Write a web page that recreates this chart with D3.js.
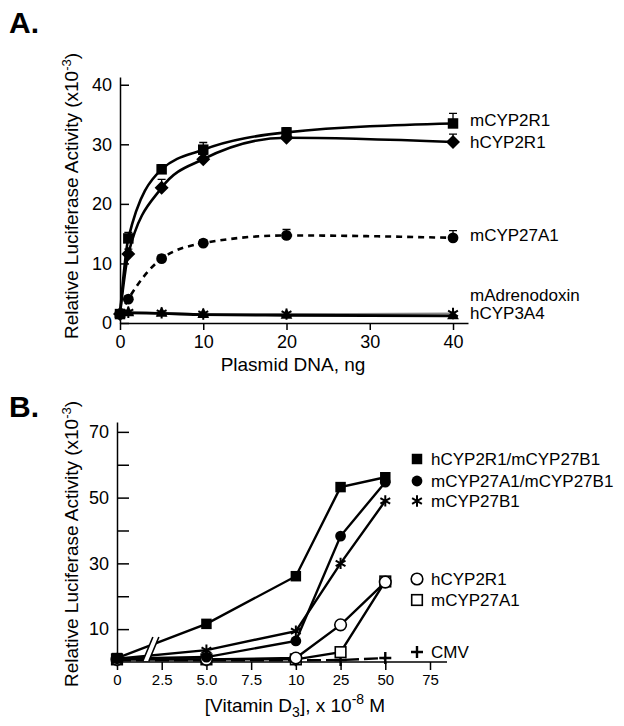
<!DOCTYPE html>
<html>
<head>
<meta charset="utf-8">
<script src="https://cdn.jsdelivr.net/npm/d3@7"></script>
<style>
  body { margin: 0; background: #fff; }
  text { font-family: "Liberation Sans", Arial, Helvetica, sans-serif; fill: #000; }
</style>
</head>
<body>
<svg id="chart" width="624" height="726"></svg>
<script>
// ---- Panel A: plasmid DNA titration ----
const dnaNg = [0, 1, 5, 10, 20, 40];
const mCYP2R1 = [1.5, 14.2, 25.8, 29.1, 32.0, 33.5];
const mCYP2R1Err = [0, 1.0, 0.8, 1.2, 0.8, 1.7];
const hCYP2R1 = [1.5, 11.6, 22.7, 27.5, 31.1, 30.4];
const hCYP2R1Err = [0, 0.8, 1.4, 0.8, 0.8, 1.3];
const mCYP27A1 = [1.5, 4.0, 10.8, 13.4, 14.7, 14.3];
const mCYP27A1Err = [0, 0.5, 0.6, 0.6, 1.0, 1.2];
const mAdrenodoxin = [1.5, 1.8, 1.7, 1.5, 1.5, 1.6];
const hCYP3A4 = [1.5, 1.7, 1.6, 1.4, 1.3, 1.2];
const aTicks = [0, 10, 20, 30, 40];

// ---- Panel B: vitamin D3 dose response ----
const doseTicks = ["0", "2.5", "5.0", "7.5", "10", "25", "50", "75"];
const doses = ["0", "5.0", "10", "25", "50"];
const hCYP2R1_mCYP27B1 = [1.2, 11.6, 26.1, 53.2, 56.2];
const mCYP27A1_mCYP27B1 = [1.0, 1.5, 6.4, 38.3, 54.7];
const mCYP27B1 = [1.0, 3.6, 9.4, 30.0, 49.0];
const hCYP2R1B = [0.8, 0.8, 1.2, 11.3, 24.3];
const mCYP27A1B = [0.8, 0.8, 0.8, 3.0, 24.5];
const cmv = [0.5, 0.5, 0.5, 0.6, 1.2];
const bTicks = [10, 20, 30, 40, 50, 60, 70];

const svg = d3.select('#chart');

const sym = (type, size) => d3.symbol().type(type).size(size)();

function drawMarker(g, x, y, kind) {
    if (kind === 'square') {
        g.append('path').attr('d', sym(d3.symbolSquare, 110))
            .attr('transform', `translate(${x},${y})`).attr('fill', '#000');
    } else if (kind === 'diamond') {
        g.append('path').attr('d', sym(d3.symbolSquare, 98))
            .attr('transform', `translate(${x},${y}) rotate(45)`).attr('fill', '#000');
    } else if (kind === 'circle') {
        g.append('circle').attr('cx', x).attr('cy', y).attr('r', 5.4).attr('fill', '#000');
    } else if (kind === 'triangle') {
        g.append('path').attr('d', sym(d3.symbolTriangle, 60))
            .attr('transform', `translate(${x},${y})`).attr('fill', '#000');
    } else if (kind === 'star') {
        g.append('path').attr('d', sym(d3.symbolAsterisk, 90))
            .attr('transform', `translate(${x},${y})`)
            .attr('fill', 'none').attr('stroke', '#000').attr('stroke-width', 2);
    } else if (kind === 'opencircle') {
        g.append('circle').attr('cx', x).attr('cy', y).attr('r', 5.8)
            .attr('fill', '#fff').attr('stroke', '#000').attr('stroke-width', 1.6);
    } else if (kind === 'opensquare') {
        g.append('rect').attr('x', x - 5.3).attr('y', y - 5.3).attr('width', 10.6).attr('height', 10.6)
            .attr('fill', '#fff').attr('stroke', '#000').attr('stroke-width', 1.6);
    } else if (kind === 'plus') {
        g.append('path')
            .attr('d', `M${x - 6},${y}H${x + 6}M${x},${y - 6}V${y + 6}`)
            .attr('stroke', '#000').attr('stroke-width', 2.4);
    }
}

// Y-axis title with superscript
function yTitle(cx, cy) {
    const t = svg.append('text')
        .attr('transform', `translate(${cx},${cy}) rotate(-90)`)
        .attr('text-anchor', 'middle')
        .style('font-size', '19px');
    t.append('tspan').text('Relative Luciferase Activity (x10');
    t.append('tspan').text('-3').attr('dy', -7).style('font-size', '13px');
    t.append('tspan').text(')').attr('dy', 7);
}

// ================= Panel A =================
const xA = d3.scaleLinear().domain([0, 41.8]).range([120, 468]);
const yA = d3.scaleLinear().domain([0, 41.3]).range([323, 77]);

svg.append('text').attr('x', 9).attr('y', 33).text('A.')
    .style('font-size', '30px').style('font-weight', 'bold');

const gA = svg.append('g');

gA.append('g')
    .attr('transform', `translate(${xA(0)},0)`)
    .call(d3.axisLeft(yA).tickValues(aTicks).tickSize(-9).tickSizeOuter(0).tickPadding(8))
    .call(g => g.selectAll('text').style('font-size', '18px'))
    .call(g => g.select('.domain').attr('stroke-width', 1.5))
    .call(g => g.selectAll('.tick line').attr('stroke-width', 1.5));

gA.append('g')
    .attr('transform', `translate(0,${yA(0)})`)
    .call(d3.axisBottom(xA).tickValues(aTicks).tickSize(7).tickSizeOuter(0).tickPadding(5))
    .call(g => g.selectAll('text').style('font-size', '18px'))
    .call(g => g.select('.domain').attr('stroke-width', 1.5))
    .call(g => g.selectAll('.tick line').attr('stroke-width', 1.5));

svg.append('text').attr('x', 293).attr('y', 371).attr('text-anchor', 'middle')
    .style('font-size', '19px').text('Plasmid DNA, ng');
yTitle(78, 196);

const lineA = d3.line().x((d, i) => xA(dnaNg[i])).y(d => yA(d)).curve(d3.curveMonotoneX);

const seriesA = [
    { vals: mAdrenodoxin, err: null, kind: 'star', dash: null, color: '#888', w: 2 },
    { vals: hCYP3A4, err: null, kind: 'triangle', dash: null, color: '#000', w: 2.8 },
    { vals: mCYP27A1, err: mCYP27A1Err, kind: 'circle', dash: '6,5', color: '#000', w: 2.6 },
    { vals: hCYP2R1, err: hCYP2R1Err, kind: 'diamond', dash: null, color: '#000', w: 2.6 },
    { vals: mCYP2R1, err: mCYP2R1Err, kind: 'square', dash: null, color: '#000', w: 2.6 },
];

seriesA.forEach(s => {
    gA.append('path').datum(s.vals).attr('d', lineA)
        .attr('fill', 'none').attr('stroke', s.color).attr('stroke-width', s.w)
        .attr('stroke-dasharray', s.dash);
});
seriesA.forEach(s => {
    s.vals.forEach((v, i) => {
        if (s.err && s.err[i] > 0) {
            const x = xA(dnaNg[i]);
            const yt = yA(v + s.err[i]);
            gA.append('path').attr('d', `M${x},${yA(v)}V${yt}M${x - 4},${yt}H${x + 4}`)
                .attr('stroke', '#000').attr('stroke-width', 1.3).attr('fill', 'none');
        }
    });
});
seriesA.forEach(s => {
    s.vals.forEach((v, i) => drawMarker(gA, xA(dnaNg[i]), yA(v), s.kind));
});

const labelsA = [
    ['mCYP2R1', 126], ['hCYP2R1', 148], ['mCYP27A1', 241], ['mAdrenodoxin', 301], ['hCYP3A4', 319],
];
labelsA.forEach(([t, y]) => {
    svg.append('text').attr('x', 470).attr('y', y).style('font-size', '17px').text(t);
});

// ================= Panel B =================
const xB = d3.scalePoint().domain(doseTicks).range([117, 430]);
const yB = d3.scaleLinear().domain([0, 73]).range([662, 422]);

svg.append('text').attr('x', 9).attr('y', 417).text('B.')
    .style('font-size', '30px').style('font-weight', 'bold');

const gB = svg.append('g');

gB.append('g')
    .attr('transform', `translate(${xB('0')},0)`)
    .call(d3.axisLeft(yB).tickValues(bTicks).tickSize(-12).tickSizeOuter(0).tickPadding(8)
        .tickFormat(d => (d % 20 === 10 ? d : '')))
    .call(g => g.selectAll('text').style('font-size', '18px'))
    .call(g => g.select('.domain').attr('stroke-width', 1.5))
    .call(g => g.selectAll('.tick line').attr('stroke-width', 1.5));

gB.append('g')
    .attr('transform', `translate(0,${yB(0)})`)
    .call(d3.axisBottom(xB).tickSize(8).tickSizeOuter(0).tickPadding(4))
    .call(g => g.selectAll('text').style('font-size', '15px'))
    .call(g => g.select('.domain').attr('d', `M${xB('0')},0H${xB('75') + 17}`).attr('stroke-width', 1.5))
    .call(g => g.selectAll('.tick line').attr('stroke-width', 1.5));

const xt = svg.append('text').attr('x', 295).attr('y', 712).attr('text-anchor', 'middle')
    .style('font-size', '19px');
xt.append('tspan').text('[Vitamin D');
xt.append('tspan').text('3').attr('dy', 5).style('font-size', '14px');
xt.append('tspan').text('], x 10').attr('dy', -5);
xt.append('tspan').text('-8').attr('dy', -8).style('font-size', '14px');
xt.append('tspan').text(' M').attr('dy', 8);
yTitle(78, 544);

const lineB = d3.line().x((d, i) => xB(doses[i])).y(d => yB(d));

const seriesB = [
    { vals: cmv, kind: 'plus', dash: '14,5' },
    { vals: mCYP27A1B, kind: 'opensquare', dash: null },
    { vals: hCYP2R1B, kind: 'opencircle', dash: null },
    { vals: mCYP27B1, kind: 'star', dash: null },
    { vals: mCYP27A1_mCYP27B1, kind: 'circle', dash: null },
    { vals: hCYP2R1_mCYP27B1, kind: 'square', dash: null },
];

seriesB.forEach(s => {
    gB.append('path').datum(s.vals).attr('d', lineB)
        .attr('fill', 'none').attr('stroke', '#000').attr('stroke-width', 2.4)
        .attr('stroke-dasharray', s.dash);
});

// axis break marks between 0 and 2.5
const bx = xB('0') + 0.78 * (xB('2.5') - xB('0'));
const by0 = yB(0) - 1, by1 = yB(0) - 25;
gB.append('path')
    .attr('d', `M${bx - 9},${by0}L${bx + 1},${by1}L${bx + 7},${by1}L${bx - 3},${by0}Z`)
    .attr('fill', '#fff');
gB.append('path')
    .attr('d', `M${bx - 9},${by0}L${bx + 1},${by1}M${bx - 3},${by0}L${bx + 7},${by1}`)
    .attr('stroke', '#000').attr('stroke-width', 1.6).attr('fill', 'none');

seriesB.forEach(s => {
    s.vals.forEach((v, i) => drawMarker(gB, xB(doses[i]), yB(v), s.kind));
});

const legendB = [
    ['square', 'hCYP2R1/mCYP27B1', 465],
    ['circle', 'mCYP27A1/mCYP27B1', 487],
    ['star', 'mCYP27B1', 507],
    ['opencircle', 'hCYP2R1', 585],
    ['opensquare', 'mCYP27A1', 606],
    ['plus', 'CMV', 658],
];
legendB.forEach(([k, t, y]) => {
    drawMarker(svg, 417, y - 6, k);
    svg.append('text').attr('x', 431).attr('y', y).style('font-size', '17px').text(t);
});
</script>
</body>
</html>
